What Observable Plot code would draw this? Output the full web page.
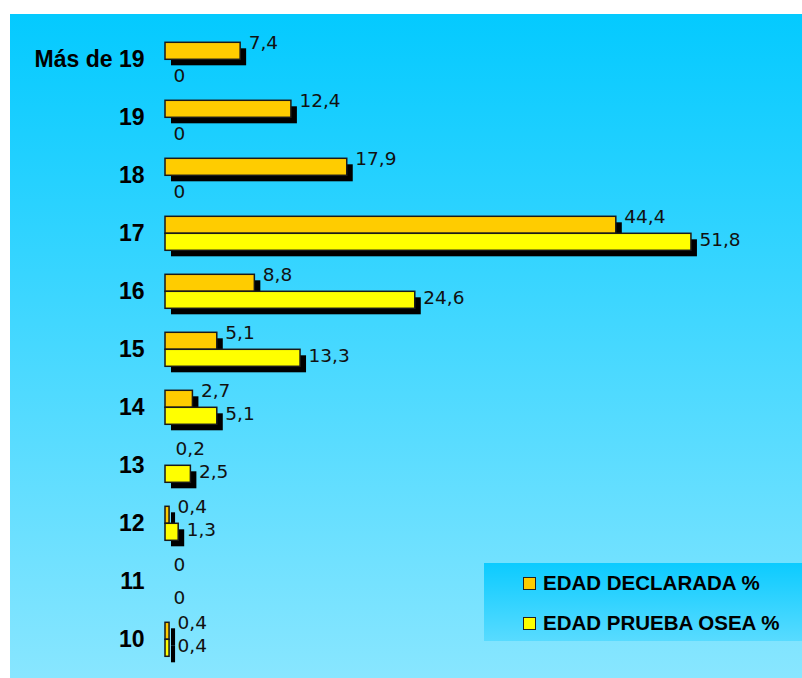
<!DOCTYPE html>
<html>
<head>
<meta charset="utf-8">
<script src="https://cdn.jsdelivr.net/npm/d3@7"></script>
<script src="https://cdn.jsdelivr.net/npm/@observablehq/plot@0.6"></script>
<style>
  html, body { margin: 0; padding: 0; background: #ffffff; }
  #wrap { position: relative; width: 802px; height: 678px; overflow: hidden; background: #ffffff; }
  #bg { position: absolute; left: 10px; top: 14px; width: 792px; height: 664px;
        background: linear-gradient(to bottom, #04caff 0%, #88e6ff 100%); }
  #chart { position: absolute; left: 0; top: 0; }
  #legend { position: absolute; left: 484px; top: 563px; width: 318px; height: 78px;
            background: linear-gradient(to bottom, #0ccbff 0%, #58dbff 100%);
            font-family: "Liberation Sans", Arial, sans-serif; font-weight: bold; font-size: 20.5px; color: #000; }
  .item { position: absolute; left: 39px; display: flex; align-items: center; height: 22px; }
  .sw { width: 11px; height: 11px; border: 1.5px solid #222; margin-right: 7px; }
</style>
</head>
<body>
<div id="wrap">
  <div id="bg"></div>
  <div id="chart"></div>
  <div id="legend"></div>
</div>
<script>
const categorias = ["Más de 19", "19", "18", "17", "16", "15", "14", "13", "12", "11", "10"];
const edadDeclarada = [7.4, 12.4, 17.9, 44.4, 8.8, 5.1, 2.7, 0.2, 0.4, 0, 0.4];
const edadOsea = [0, 0, 0, 51.8, 24.6, 13.3, 5.1, 2.5, 1.3, 0, 0.4];
const series = ["EDAD DECLARADA %", "EDAD PRUEBA OSEA %"];
const colores = ["#ffcc00", "#ffff00"];

const rows = [];
categorias.forEach((c, i) => {
  rows.push({cat: c, serie: series[0], value: edadDeclarada[i]});
  rows.push({cat: c, serie: series[1], value: edadOsea[i]});
});
const fmt = v => String(v).replace(".", ",");
const labelFont = "'DejaVu Sans', Verdana, sans-serif";
// bars narrower than the outline are not visible in the original
const visible = d => d.value > 0.2;

const chart = Plot.plot({
  width: 802,
  height: 678,
  marginLeft: 165,
  marginRight: 27.8,
  marginTop: 34.7,
  marginBottom: 13.7,
  style: {background: "transparent", fontFamily: "'Liberation Sans', Arial, sans-serif", fontSize: "23px", fontWeight: "bold", color: "#000", overflow: "visible"},
  facet: {data: rows, y: "cat"},
  fy: {domain: categorias, paddingInner: 0.4, paddingOuter: 0.1, axis: "left", label: null, tickSize: 0, tickPadding: 21},
  x: {domain: [0, 60], axis: null},
  y: {domain: series, axis: null, padding: 0},
  color: {domain: series, range: colores},
  marks: [
    Plot.barX(rows, {filter: visible, x: "value", y: "serie", fill: "#000", dx: 6, dy: 6}),
    Plot.barX(rows, {filter: visible, x: "value", y: "serie", fill: "serie", stroke: "#1a1a1a", strokeWidth: 1.5}),
    Plot.text(rows, {filter: d => d.serie === series[0], x: "value", y: "serie", text: d => fmt(d.value),
      dx: 8, dy: -8, textAnchor: "start", fontSize: 18.5, fontWeight: "normal", fontFamily: labelFont, fill: "#111"}),
    Plot.text(rows, {filter: d => d.serie === series[1] && d.value > 0, x: "value", y: "serie", text: d => fmt(d.value),
      dx: 8, dy: -2, textAnchor: "start", fontSize: 18.5, fontWeight: "normal", fontFamily: labelFont, fill: "#111"}),
    Plot.text(rows, {filter: d => d.serie === series[1] && d.value === 0, x: "value", y: "serie", text: d => fmt(d.value),
      dx: 8, dy: 8, textAnchor: "start", fontSize: 18.5, fontWeight: "normal", fontFamily: labelFont, fill: "#111"})
  ]
});
document.getElementById("chart").appendChild(chart);

const legend = document.getElementById("legend");
series.forEach((s, i) => {
  const it = document.createElement("div");
  it.className = "item";
  it.style.top = (i === 0 ? 9 : 49) + "px";
  const sw = document.createElement("div");
  sw.className = "sw";
  sw.style.background = colores[i];
  const tx = document.createElement("span");
  tx.textContent = s;
  it.appendChild(sw);
  it.appendChild(tx);
  legend.appendChild(it);
});
</script>
</body>
</html>
